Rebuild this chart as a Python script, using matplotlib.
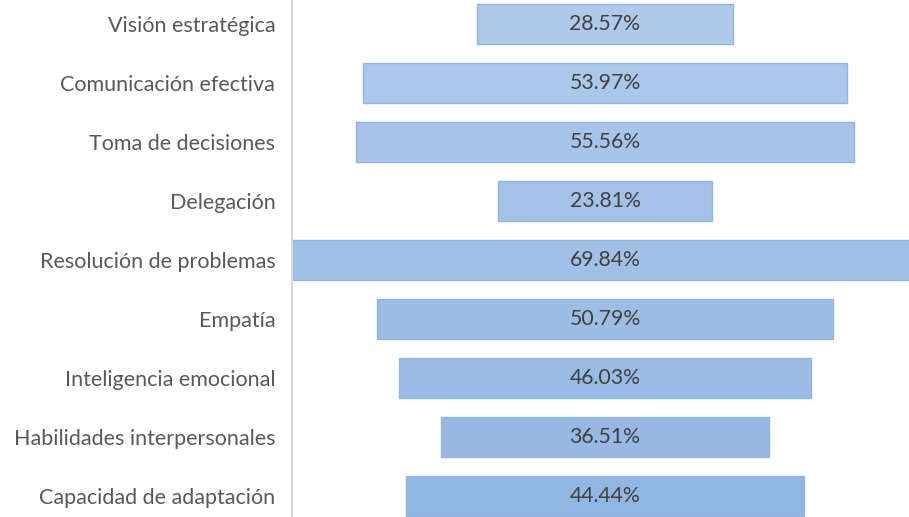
import numpy as np
import matplotlib.pyplot as plt
from matplotlib.colors import to_rgb

# datos
categorias = ['Visión estratégica', 'Comunicación efectiva', 'Toma de decisiones',
              'Delegación', 'Resolución de problemas', 'Empatía',
              'Inteligencia emocional', 'Habilidades interpersonales',
              'Capacidad de adaptación']
valores = [28.57, 53.97, 55.56, 23.81, 69.84, 50.79, 46.03, 36.51, 44.44]

plt.rcParams['font.family'] = ['Lato', 'DejaVu Sans']

fig = plt.figure(figsize=(9.09, 5.17), dpi=100)
ax = fig.add_axes([292 / 909, 0, 1 - 292 / 909, 1])

# degradado de color de arriba (claro) a abajo (oscuro)
c_top = np.array(to_rgb('#afc9ea'))
c_bot = np.array(to_rgb('#92b6e2'))
n = len(valores)
colores = [tuple(c_top + (c_bot - c_top) * i / (n - 1)) for i in range(n)]

y = np.arange(n)
ax.barh(y, valores, left=[-v / 2 for v in valores], height=0.68,
        color=colores, edgecolor='#94b4e0', linewidth=1.0)

for yi, v in zip(y, valores):
    ax.text(0, yi, f'{v:.2f}%', ha='center', va='center', fontsize=15.3, color='#404040')

escala = 8.97  # px por %
ax.set_xlim(-(605 - 292) / escala, (909 - 605) / escala)
ax.set_ylim((517 - 24) / 59, -24 / 59)

ax.set_yticks(y)
ax.set_yticklabels(categorias, fontsize=15.5, color='#595959')
ax.tick_params(axis='y', length=0, pad=12)
ax.set_xticks([])
for s in ['top', 'right', 'bottom']:
    ax.spines[s].set_visible(False)
ax.spines['left'].set_color('#d9d9d9')
ax.spines['left'].set_linewidth(1.5)

fig.savefig('out.png', dpi=100)
